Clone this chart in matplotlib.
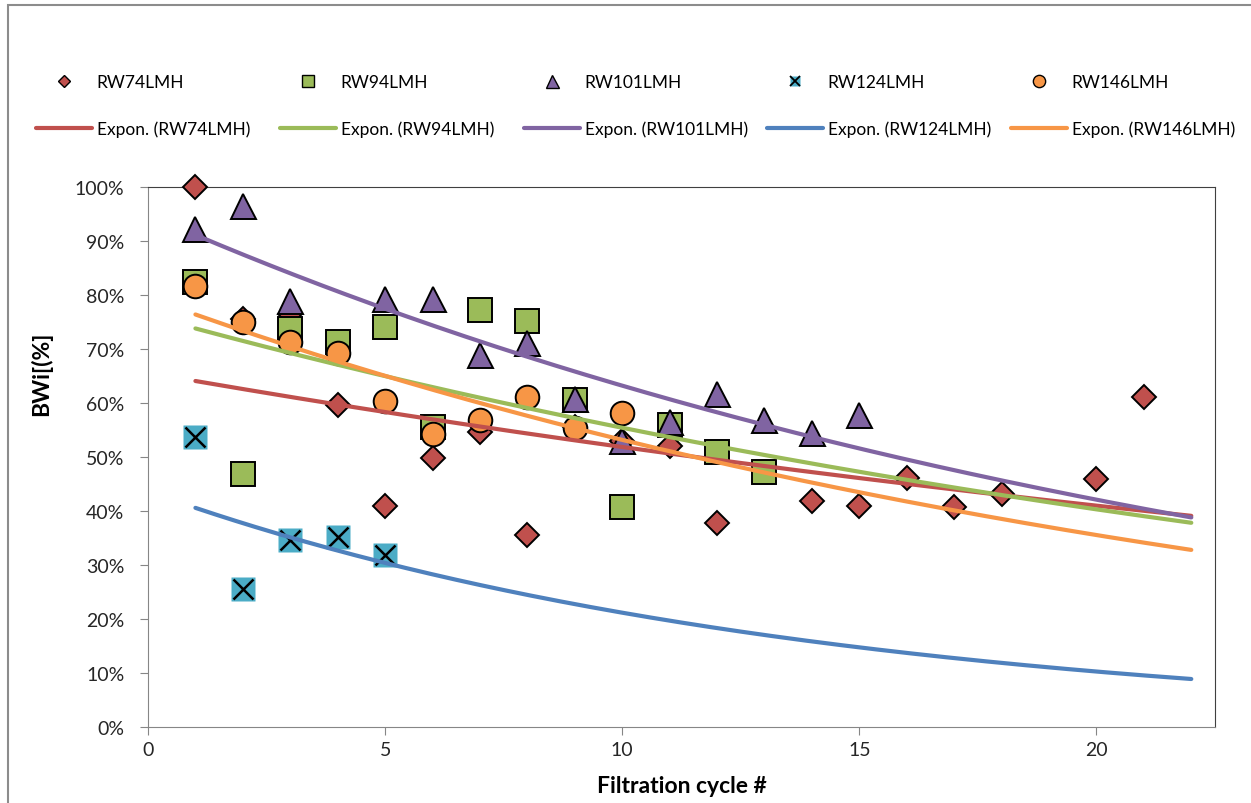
import numpy as np
import matplotlib.pyplot as plt
from matplotlib.lines import Line2D
from matplotlib.patches import Rectangle
from matplotlib.legend_handler import HandlerTuple
from matplotlib.ticker import MultipleLocator, PercentFormatter

plt.rcParams['font.family'] = ['Lato', 'DejaVu Sans']

# BWi [%] per filtration cycle
rw74_x = [1, 2, 3, 4, 5, 6, 7, 8, 9, 10, 11, 12, 14, 15, 16, 17, 18, 20, 21]
rw74_y = [100.0, 75.5, 76.5, 59.6, 40.9, 49.8, 54.6, 35.5, 55.5, 53.0, 52.0,
          37.8, 41.9, 40.9, 46.2, 40.8, 43.2, 46.0, 61.1]

rw94_x = [1, 2, 3, 4, 5, 6, 7, 8, 9, 10, 11, 12, 13]
rw94_y = [82.4, 46.9, 73.7, 71.3, 74.0, 55.5, 77.2, 75.1, 60.5, 40.8, 56.0, 50.9, 47.3]

rw101_x = [1, 2, 3, 5, 6, 7, 8, 9, 10, 11, 12, 13, 14, 15]
rw101_y = [92.3, 96.4, 78.9, 79.2, 79.3, 68.8, 71.2, 60.7, 53.0, 56.4, 61.6, 56.8, 54.5, 57.7]

rw124_x = [1, 2, 3, 4, 5]
rw124_y = [53.7, 25.6, 34.6, 35.2, 31.9]

rw146_x = [1, 2, 3, 4, 5, 6, 7, 8, 9, 10]
rw146_y = [81.7, 75.0, 71.3, 69.2, 60.3, 54.2, 56.8, 61.1, 55.4, 58.2]

labels = ["RW74LMH", "RW94LMH", "RW101LMH", "RW124LMH", "RW146LMH"]
trend_end = 22   # Excel trendlines are forecast forward to cycle 22

W, H = 1251, 804
fig = plt.figure(figsize=(W / 100, H / 100), dpi=100)
ax = fig.add_axes([148 / W, 1 - 728 / H, (1215 - 148) / W, (728 - 188) / H])

series = [
    (rw74_x, rw74_y, dict(marker="D", ms=12, mfc="#C0504D"), "#C0504D"),
    (rw94_x, rw94_y, dict(marker="s", ms=17, mfc="#9BBB59"), "#9BBB59"),
    (rw101_x, rw101_y, dict(marker="^", ms=18, mfc="#8064A2"), "#8064A2"),
    (rw124_x, rw124_y, None, "#4F81BD"),
    (rw146_x, rw146_y, dict(marker="o", ms=17, mfc="#F79646"), "#F79646"),
]

marker_handles = []
line_handles = []
for (xs, ys, style, tcolor), lab in zip(series, labels):
    if style is None:
        # Excel "x in a square" marker
        ax.plot(xs, ys, ls="none", marker="s", ms=17, mfc="#4BACC6", mec="none",
                zorder=3, clip_on=False)
        ax.plot(xs, ys, ls="none", marker="x", ms=15, mec="black", mew=1.8,
                zorder=3, clip_on=False)
        h = (Line2D([], [], ls="none", marker="s", ms=7, mfc="#4BACC6", mec="none"),
             Line2D([], [], ls="none", marker="x", ms=6.5, mec="black", mew=1.3))
    else:
        ax.plot(xs, ys, ls="none", mec="black", mew=1.4, zorder=3, clip_on=False, **style)
        small = dict(style)
        small["ms"] = style["ms"] * 0.52
        h = Line2D([], [], ls="none", mec="black", mew=1.0, **small)
    marker_handles.append(h)

    # exponential trendline fitted the same way Excel does (least squares on ln y)
    b, ln_a = np.polyfit(xs, np.log(ys), 1)
    tx = np.linspace(1, trend_end, 200)
    ax.plot(tx, np.exp(ln_a) * np.exp(b * tx), color=tcolor, lw=3.0, zorder=4,
            solid_capstyle="round")
    line_handles.append(Line2D([], [], color=tcolor, lw=3.0, solid_capstyle="round"))

ax.set_xlim(0, 22.5)
ax.set_ylim(0, 100)
ax.xaxis.set_major_locator(MultipleLocator(5))
ax.yaxis.set_major_locator(MultipleLocator(10))
ax.yaxis.set_major_formatter(PercentFormatter(100, decimals=0))
ax.tick_params(direction="out", length=6, width=0.8, color="#868686",
               labelsize=14, labelcolor="#262626")
ax.tick_params(axis="y", pad=11)
ax.tick_params(axis="x", pad=4)
for side in ["left", "bottom"]:
    ax.spines[side].set_color("#868686")
for side in ["top", "right"]:
    ax.spines[side].set_color("#404040")

ax.set_xlabel("Filtration cycle #", fontsize=16.5, fontweight="bold")
ax.set_ylabel("BWi[(%]", fontsize=16.5, fontweight="bold")
ax.xaxis.set_label_coords(0.5, -0.088)
ax.yaxis.set_label_coords(-0.09, 0.655)

# legend: one small two-row block per series, spaced like Excel lays it out
text_x = [96, 340, 584, 827, 1071]
for mh, lh, lab, tx in zip(marker_handles, line_handles, labels, text_x):
    hmap = {tuple: HandlerTuple(ndivide=1)}
    fig.legend([mh, lh], [lab, f"Expon. ({lab})"], loc="center left",
               bbox_to_anchor=((tx - 60) / W, 1 - 106.5 / H), frameon=False,
               fontsize=12.5, handlelength=3.2, handletextpad=0.3, borderpad=0,
               borderaxespad=0, labelspacing=1.75, handler_map=hmap)

# chart area frame (only top and left edges are inside the picture)
fig.add_artist(Rectangle((8 / W, -0.5), 2, 1 - 6 / H + 0.5, transform=fig.transFigure,
                         fill=False, edgecolor="#8c8c8c", lw=1.5))

fig.savefig("out.png", dpi=100)
